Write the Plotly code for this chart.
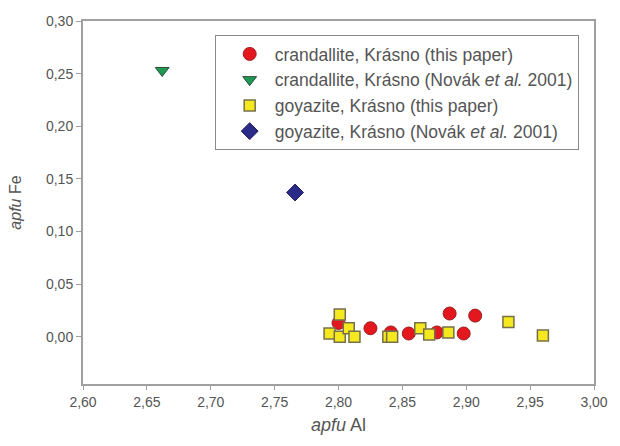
import plotly.graph_objects as go

# crandallite, Krásno (this paper)
cran_x = [2.800, 2.825, 2.841, 2.855, 2.877, 2.887, 2.898, 2.907]
cran_y = [0.013, 0.008, 0.004, 0.003, 0.004, 0.022, 0.003, 0.020]
# crandallite, Krásno (Novák et al. 2001)
cran_nov_x = [2.662]
cran_nov_y = [0.253]
# goyazite, Krásno (this paper)
goy_x = [2.801, 2.793, 2.801, 2.808, 2.8125, 2.839, 2.842, 2.864, 2.871, 2.886, 2.933, 2.960]
goy_y = [0.021, 0.003, 0.000, 0.008, 0.000, 0.000, 0.000, 0.008, 0.002, 0.004, 0.014, 0.001]
# goyazite, Krásno (Novák et al. 2001)
goy_nov_x = [2.766]
goy_nov_y = [0.137]

x_ticks = [2.60, 2.65, 2.70, 2.75, 2.80, 2.85, 2.90, 2.95, 3.00]
y_ticks = [0.00, 0.05, 0.10, 0.15, 0.20, 0.25, 0.30]

FONT = "Liberation Sans, Arial, sans-serif"
GRAY_TXT = "#555555"
AXIS_COL = "#a0a0a0"

fig = go.Figure()
fig.add_trace(go.Scatter(
    x=cran_x, y=cran_y, mode="markers",
    name="crandallite, Krásno (this paper)",
    marker=dict(symbol="circle", size=13, color="#e3171d",
                line=dict(color="#9a2020", width=1))))
fig.add_trace(go.Scatter(
    x=cran_nov_x, y=cran_nov_y, mode="markers",
    name="crandallite, Krásno (Novák <i>et al.</i> 2001)",
    marker=dict(symbol="triangle-down", size=12, color="#1f9a55",
                line=dict(color="#2d4a35", width=1))))
fig.add_trace(go.Scatter(
    x=goy_x, y=goy_y, mode="markers",
    name="goyazite, Krásno (this paper)",
    marker=dict(symbol="square", size=11, color="#f6e81e",
                line=dict(color="#76704a", width=1.5))))
fig.add_trace(go.Scatter(
    x=goy_nov_x, y=goy_nov_y, mode="markers",
    name="goyazite, Krásno (Novák <i>et al.</i> 2001)",
    marker=dict(symbol="diamond", size=13, color="#2c2a88",
                line=dict(color="#1e1e5a", width=1))))

fig.update_layout(
    width=620, height=446,
    margin=dict(l=83, r=17, t=21, b=62),
    paper_bgcolor="white", plot_bgcolor="white",
    separators=", ",
    font=dict(family=FONT, color=GRAY_TXT, size=14),
    showlegend=True,
    legend=dict(x=0.2577, y=0.9614, xanchor="left", yanchor="top",
                bordercolor="#8a8a8a", borderwidth=1, bgcolor="white",
                font=dict(family=FONT, size=17.5, color=GRAY_TXT),
                itemwidth=40, indentation=9, tracegroupgap=0),
    xaxis=dict(range=[2.60, 3.00], tickvals=x_ticks, tickformat=".2f",
               showgrid=False, zeroline=False, showline=True, mirror=True,
               linecolor=AXIS_COL, linewidth=2, ticks="outside",
               ticklen=4, tickcolor=AXIS_COL, tickwidth=1,
               tickfont=dict(size=14, color=GRAY_TXT),
               title=dict(text="<i>apfu</i> Al", standoff=10,
                          font=dict(size=18, color=GRAY_TXT))),
    yaxis=dict(range=[-0.045, 0.30], tickvals=y_ticks, tickformat=".2f",
               showgrid=False, zeroline=False, showline=True, mirror=True,
               linecolor=AXIS_COL, linewidth=2, ticks="outside",
               ticklen=5, tickcolor=AXIS_COL, tickwidth=1,
               tickfont=dict(size=14, color=GRAY_TXT),
               title=dict(text="<i>apfu</i> Fe", standoff=20,
                          font=dict(size=16, color=GRAY_TXT))),
)

fig.write_html("out.html")
